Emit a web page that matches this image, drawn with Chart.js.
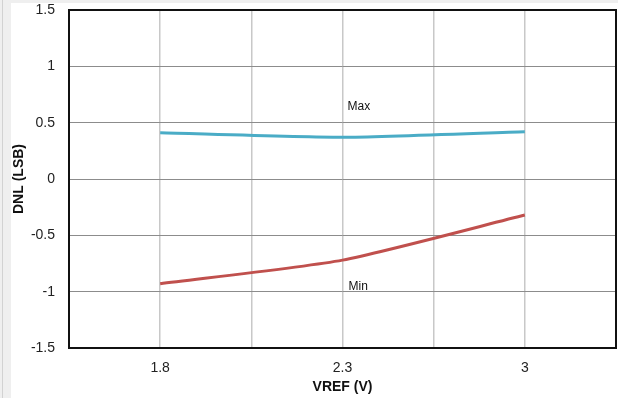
<!DOCTYPE html>
<html>
<head>
<meta charset="utf-8">
<script src="https://cdn.jsdelivr.net/npm/chart.js@4.4.0/dist/chart.umd.min.js"></script>
<style>
  html, body { margin: 0; padding: 0; background: #fff; }
  #wrap { width: 618px; height: 398px; }
</style>
</head>
<body>
<div id="wrap"><canvas id="grafico" width="618" height="398"></canvas></div>
<script>
// datos de la grafica
var categorias = ['1.8', '2.3', '3'];
var valoresMax = [0.41, 0.37, 0.42];
var valoresMin = [-0.93, -0.72, -0.32];
var ticksY = [-1.5, -1, -0.5, 0, 0.5, 1, 1.5];

function puntos(valores) {
    return valores.map(function (v, i) { return { x: i + 1, y: v }; });
}

// fondo gris del marco y borde negro del area
var marco = {
    id: 'marco',
    beforeDraw: function (chart) {
        var ctx = chart.ctx;
        ctx.save();
        ctx.fillStyle = '#efefef';
        ctx.fillRect(0, 0, chart.width, chart.height);
        ctx.fillStyle = '#d2d2d2';
        ctx.fillRect(2, 0, 1, chart.height);
        ctx.fillStyle = '#ffffff';
        ctx.fillRect(11, 3, chart.width - 11, chart.height - 3);
        ctx.restore();
    },
    afterDraw: function (chart) {
        var a = chart.chartArea;
        var ctx = chart.ctx;
        ctx.save();
        ctx.strokeStyle = '#111';
        ctx.lineWidth = 2;
        ctx.strokeRect(a.left, a.top, a.right - a.left, a.bottom - a.top);

        // etiquetas Max y Min
        var sx = chart.scales.x, sy = chart.scales.y;
        ctx.font = '12px Arial, "Liberation Sans"';
        ctx.fillStyle = '#111';
        ctx.textAlign = 'left';
        ctx.textBaseline = 'middle';
        ctx.fillText('Max', sx.getPixelForValue(2) + 5, sy.getPixelForValue(0.64));
        ctx.fillText('Min', sx.getPixelForValue(2) + 6, sy.getPixelForValue(-0.96));
        ctx.restore();
    }
};

var ctx = document.getElementById('grafico').getContext('2d');
var miGrafico = new Chart(ctx, {
    type: 'line',
    data: {
        datasets: [{
            label: 'Max',
            data: puntos(valoresMax),
            borderColor: '#4aacc6',
            borderWidth: 3,
            pointRadius: 0,
            tension: 0.2,
            fill: false
        }, {
            label: 'Min',
            data: puntos(valoresMin),
            borderColor: '#c0504d',
            borderWidth: 3,
            pointRadius: 0,
            tension: 0.2,
            fill: false
        }]
    },
    options: {
        responsive: false,
        animation: false,
        layout: { padding: { left: 11, top: 10, right: 2, bottom: 0 } },
        plugins: {
            legend: { display: false },
            tooltip: { enabled: false }
        },
        scales: {
            x: {
                type: 'linear',
                min: 0.5,
                max: 3.5,
                afterBuildTicks: function (axis) {
                    axis.ticks = [];
                    for (var v = 0.5; v <= 3.5; v += 0.5) axis.ticks.push({ value: v });
                },
                afterFit: function (axis) {
                    axis.height = 50;
                    axis.paddingLeft = 0;
                    axis.paddingRight = 0;
                },
                grid: { color: '#c8c8c8', lineWidth: 1.5, drawTicks: false },
                border: { display: false },
                ticks: {
                    autoSkip: false,
                    maxRotation: 0,
                    padding: 12,
                    color: '#222',
                    font: { family: 'Arial, "Liberation Sans"', size: 14 },
                    callback: function (v) {
                        return Number.isInteger(v) ? categorias[v - 1] : '';
                    }
                },
                title: {
                    display: true,
                    text: 'VREF (V)',
                    color: '#111',
                    padding: { top: 0, bottom: 2 },
                    font: { family: 'Arial, "Liberation Sans"', size: 14, weight: 'bold' }
                }
            },
            y: {
                min: -1.5,
                max: 1.5,
                afterBuildTicks: function (axis) {
                    axis.ticks = ticksY.map(function (v) { return { value: v }; });
                },
                afterFit: function (axis) {
                    axis.width = 58;
                    axis.paddingTop = 0;
                    axis.paddingBottom = 0;
                },
                grid: { color: '#8c8c8c', lineWidth: 1, drawTicks: false },
                border: { display: false },
                ticks: {
                    padding: 14,
                    color: '#222',
                    font: { family: 'Arial, "Liberation Sans"', size: 14 },
                    callback: function (v) { return String(v); }
                },
                title: {
                    display: true,
                    text: 'DNL (LSB)',
                    color: '#111',
                    padding: { top: 0, bottom: 0 },
                    font: { family: 'Arial, "Liberation Sans"', size: 14, weight: 'bold' }
                }
            }
        }
    },
    plugins: [marco]
});
</script>
</body>
</html>
